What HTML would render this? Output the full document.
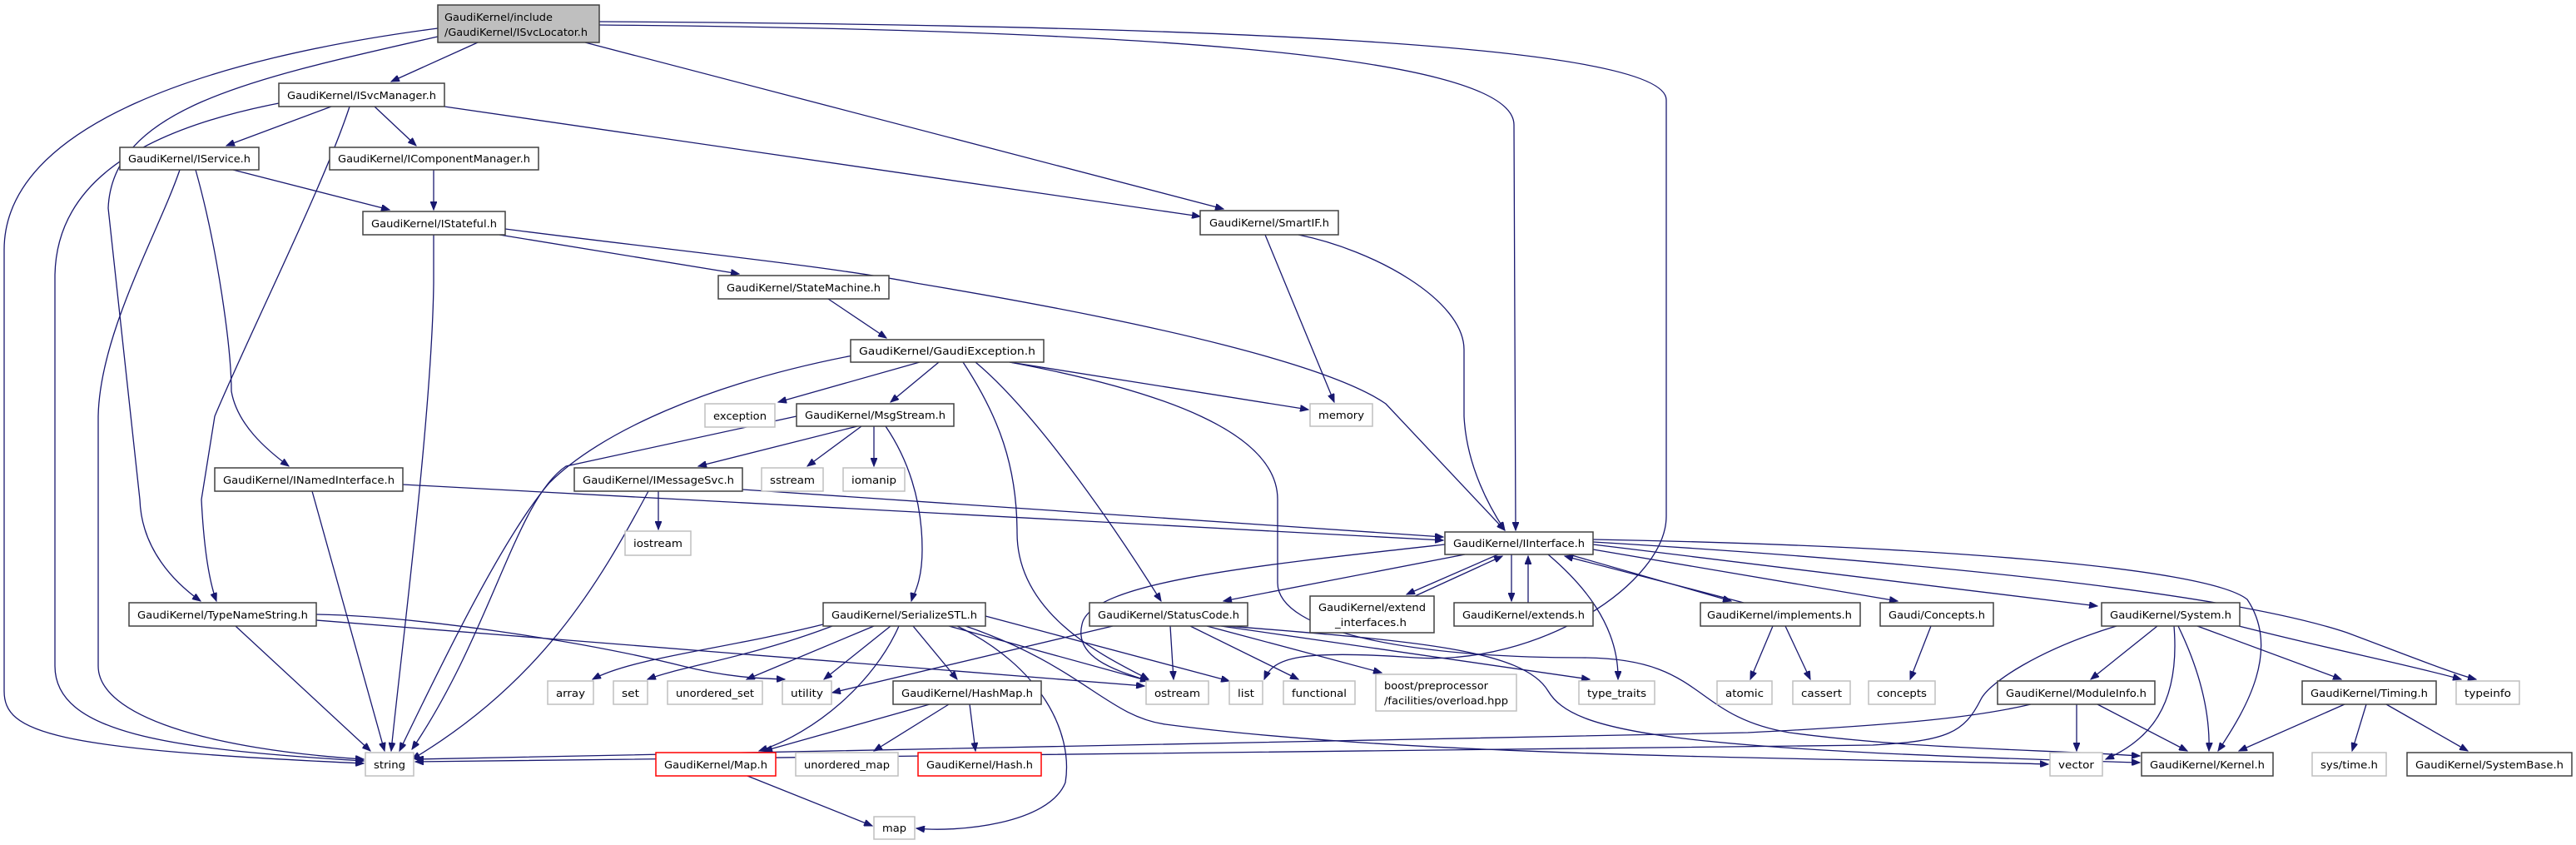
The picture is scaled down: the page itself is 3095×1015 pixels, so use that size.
<!DOCTYPE html>
<html><head><meta charset="utf-8"><style>
html,body{margin:0;padding:0;background:#fff;}
svg{display:block;}
text{font-family:"DejaVu Sans","Liberation Sans",sans-serif;font-size:12.5px;fill:#000;}
.e{fill:none;stroke:#191970;stroke-width:1.3;marker-end:url(#a);}
.d{fill:#fff;stroke:#404040;stroke-width:1.5;}
.x{fill:#fff;stroke:#bfbfbf;stroke-width:1.5;}
.r{fill:#fff;stroke:#ff0000;stroke-width:1.5;}
</style></head><body>
<svg width="3095" height="1015" viewBox="0 0 3095 1015" xmlns="http://www.w3.org/2000/svg">
<defs><marker id="a" markerUnits="userSpaceOnUse" markerWidth="11" markerHeight="8" refX="10" refY="4" orient="auto"><path d="M0,0 L10,4 L0,8 z" fill="#191970" stroke="#191970"/></marker></defs>
<g>
<path class="e" d="M526,34 C250,70 5,150 5,300 L5,830 C5,880 60,900 437,917"/>
<path class="e" d="M335,124 C150,160 68,230 66,330 L66,800 C66,880 200,900 437,914"/>
<path class="e" d="M216,204 C190,280 120,400 118,500 L118,800 C118,860 250,900 437,912"/>
<path class="e" d="M526,44 C300,95 135,130 130,250 L168,600 C170,660 210,700 241,722"/>
<path class="e" d="M420,128 C390,220 300,400 258,500 L242,600 C245,660 252,700 260,722"/>
<path class="e" d="M235,204 C262,300 278,420 278,470 C285,510 320,540 347,560"/>
<path class="e" d="M574,51 L470,98"/>
<path class="e" d="M703,51 L1470,251"/>
<path class="e" d="M534,128 L1442,260"/>
<path class="e" d="M720,30 C1300,35 1819,60 1819,150 L1821,637"/>
<path class="e" d="M720,26 C1400,30 2002,50 2002,120 L2002,620 C2002,700 1850,800 1700,790 C1560,780 1530,790 1519,816"/>
<path class="e" d="M398,128 L272,175"/>
<path class="e" d="M450,128 L500,175"/>
<path class="e" d="M280,204 L468,252"/>
<path class="e" d="M521,204 L521,252"/>
<path class="e" d="M521,282 L521,340 C519,500 480,800 470,902"/>
<path class="e" d="M600,282 L888,329"/>
<path class="e" d="M607,275 C800,300 1000,320 1100,340 C1400,390 1600,440 1665,485 L1808,637"/>
<path class="e" d="M1520,282 L1603,483"/>
<path class="e" d="M1560,282 C1650,300 1759,360 1759,420 L1759,500 C1762,560 1790,610 1808,637"/>
<path class="e" d="M995,359 L1065,406"/>
<path class="e" d="M1030,426 C850,460 720,520 660,580 C600,650 520,820 480,902"/>
<path class="e" d="M1105,435 L935,483"/>
<path class="e" d="M1128,435 L1070,483"/>
<path class="e" d="M1213,435 L1572,492"/>
<path class="e" d="M1157,435 C1200,500 1222,560 1222,640 C1222,740 1330,790 1380,816"/>
<path class="e" d="M1172,435 C1250,500 1350,650 1395,722"/>
<path class="e" d="M1213,435 C1400,470 1535,520 1535,600 L1535,700 C1535,760 1700,790 1900,790 C2050,790 2030,860 2150,880 C2300,900 2450,900 2571,908"/>
<path class="e" d="M957,500 L680,560 C620,600 590,760 495,900"/>
<path class="e" d="M1030,512 L839,560"/>
<path class="e" d="M1035,512 L970,560"/>
<path class="e" d="M1050,512 L1050,560"/>
<path class="e" d="M1064,512 C1090,550 1108,600 1108,660 C1108,700 1097,715 1095,722"/>
<path class="e" d="M791,590 L791,636"/>
<path class="e" d="M779,590 C720,700 650,820 495,912"/>
<path class="e" d="M892,588 L1734,645"/>
<path class="e" d="M484,582 L1734,649"/>
<path class="e" d="M375,590 L462,902"/>
<path class="e" d="M283,752 L445,902"/>
<path class="e" d="M380,738 C500,740 700,770 820,800 C880,815 920,815 943,816"/>
<path class="e" d="M380,745 L1375,824"/>
<path class="e" d="M993,749 C870,780 760,790 712,816"/>
<path class="e" d="M1000,752 C900,790 820,800 778,816"/>
<path class="e" d="M1050,752 L897,816"/>
<path class="e" d="M1070,752 L990,816"/>
<path class="e" d="M1080,752 C1050,820 980,880 912,902"/>
<path class="e" d="M1097,752 L1150,816"/>
<path class="e" d="M1140,752 L1380,818"/>
<path class="e" d="M1184,740 L1477,818"/>
<path class="e" d="M1150,752 C1250,800 1290,880 1280,940 C1260,990 1150,1000 1101,995"/>
<path class="e" d="M1160,752 C1300,800 1330,860 1400,870 C1700,910 2200,910 2461,918"/>
<path class="e" d="M1117,846 L918,902"/>
<path class="e" d="M1140,846 L1050,902"/>
<path class="e" d="M1165,846 L1172,902"/>
<path class="e" d="M898,932 L1048,992"/>
<path class="e" d="M1337,752 L1000,832"/>
<path class="e" d="M1406,752 L1410,816"/>
<path class="e" d="M1430,752 L1560,816"/>
<path class="e" d="M1450,752 L1660,808"/>
<path class="e" d="M1467,752 L1910,816"/>
<path class="e" d="M1475,752 C1700,770 1830,780 1860,830 C1890,880 2000,900 2571,916"/>
<path class="e" d="M1736,654 C1500,680 1310,700 1300,750 C1290,790 1340,805 1380,818"/>
<path class="e" d="M1760,666 L1470,722"/>
<path class="e" d="M1800,666 L1690,714"/>
<path class="e" d="M1700,716 L1805,668"/>
<path class="e" d="M1816,666 L1816,722"/>
<path class="e" d="M1836,724 L1836,668"/>
<path class="e" d="M1860,666 C1900,700 1945,750 1944,816"/>
<path class="e" d="M1885,666 L2080,722"/>
<path class="e" d="M2095,724 L1880,668"/>
<path class="e" d="M1914,660 L2280,722"/>
<path class="e" d="M1914,654 L2520,728"/>
<path class="e" d="M1914,648 C2300,655 2650,680 2700,720 C2740,780 2700,850 2665,902"/>
<path class="e" d="M1914,651 C2400,680 2700,720 2820,760 C2900,790 2950,810 2975,816"/>
<path class="e" d="M2130,752 L2103,816"/>
<path class="e" d="M2145,752 L2175,816"/>
<path class="e" d="M2320,752 L2295,816"/>
<path class="e" d="M2543,752 C2450,780 2390,820 2380,840 C2360,880 2340,890 2250,895 L499,915"/>
<path class="e" d="M2440,846 C2380,860 2300,870 2100,880 L499,912"/>
<path class="e" d="M2592,752 L2512,816"/>
<path class="e" d="M2612,752 C2620,850 2580,890 2530,912"/>
<path class="e" d="M2617,752 C2650,820 2655,870 2654,902"/>
<path class="e" d="M2640,752 L2813,816"/>
<path class="e" d="M2690,752 C2800,780 2900,800 2957,816"/>
<path class="e" d="M2495,846 L2495,902"/>
<path class="e" d="M2520,846 L2628,902"/>
<path class="e" d="M2817,846 L2690,902"/>
<path class="e" d="M2843,846 L2826,902"/>
<path class="e" d="M2867,846 L2965,902"/>
</g>
<g>
<rect x="526" y="6" width="194" height="45" style="fill:#bfbfbf;stroke:#404040;stroke-width:1.5"/>
<text x="534" y="25" textLength="130" lengthAdjust="spacingAndGlyphs">GaudiKernel/include</text>
<text x="534" y="43" textLength="172" lengthAdjust="spacingAndGlyphs">/GaudiKernel/ISvcLocator.h</text>
<rect class="d" x="335" y="100" width="199" height="28"/><text x="345" y="119" textLength="179" lengthAdjust="spacingAndGlyphs">GaudiKernel/ISvcManager.h</text>
<rect class="d" x="144" y="177" width="167" height="27"/><text x="154" y="195" textLength="147" lengthAdjust="spacingAndGlyphs">GaudiKernel/IService.h</text>
<rect class="d" x="396" y="177" width="251" height="27"/><text x="406" y="195" textLength="231" lengthAdjust="spacingAndGlyphs">GaudiKernel/IComponentManager.h</text>
<rect class="d" x="436" y="254" width="171" height="28"/><text x="446" y="273" textLength="151" lengthAdjust="spacingAndGlyphs">GaudiKernel/IStateful.h</text>
<rect class="d" x="1442" y="253" width="166" height="29"/><text x="1453" y="272" textLength="144" lengthAdjust="spacingAndGlyphs">GaudiKernel/SmartIF.h</text>
<rect class="d" x="863" y="331" width="205" height="28"/><text x="873" y="350" textLength="185" lengthAdjust="spacingAndGlyphs">GaudiKernel/StateMachine.h</text>
<rect class="d" x="1022" y="408" width="232" height="27"/><text x="1032" y="426" textLength="212" lengthAdjust="spacingAndGlyphs">GaudiKernel/GaudiException.h</text>
<rect class="x" x="847" y="485" width="84" height="28"/><text x="857" y="504" textLength="64" lengthAdjust="spacingAndGlyphs">exception</text>
<rect class="d" x="957" y="485" width="189" height="27"/><text x="967" y="503" textLength="169" lengthAdjust="spacingAndGlyphs">GaudiKernel/MsgStream.h</text>
<rect class="x" x="1574" y="485" width="75" height="27"/><text x="1584" y="503" textLength="55" lengthAdjust="spacingAndGlyphs">memory</text>
<rect class="d" x="258" y="562" width="226" height="28"/><text x="268" y="581" textLength="206" lengthAdjust="spacingAndGlyphs">GaudiKernel/INamedInterface.h</text>
<rect class="d" x="690" y="562" width="202" height="28"/><text x="700" y="581" textLength="182" lengthAdjust="spacingAndGlyphs">GaudiKernel/IMessageSvc.h</text>
<rect class="x" x="915" y="562" width="74" height="28"/><text x="925" y="581" textLength="54" lengthAdjust="spacingAndGlyphs">sstream</text>
<rect class="x" x="1013" y="562" width="74" height="28"/><text x="1023" y="581" textLength="54" lengthAdjust="spacingAndGlyphs">iomanip</text>
<rect class="x" x="751" y="638" width="79" height="29"/><text x="761" y="657" textLength="59" lengthAdjust="spacingAndGlyphs">iostream</text>
<rect class="d" x="1736" y="639" width="178" height="27"/><text x="1746" y="657" textLength="158" lengthAdjust="spacingAndGlyphs">GaudiKernel/IInterface.h</text>
<rect class="d" x="155" y="724" width="225" height="28"/><text x="165" y="743" textLength="205" lengthAdjust="spacingAndGlyphs">GaudiKernel/TypeNameString.h</text>
<rect class="d" x="989" y="724" width="195" height="28"/><text x="999" y="743" textLength="175" lengthAdjust="spacingAndGlyphs">GaudiKernel/SerializeSTL.h</text>
<rect class="d" x="1309" y="724" width="190" height="28"/><text x="1319" y="743" textLength="170" lengthAdjust="spacingAndGlyphs">GaudiKernel/StatusCode.h</text>
<rect class="d" x="1574" y="716" width="149" height="44"/>
<text x="1584" y="734" textLength="129" lengthAdjust="spacingAndGlyphs">GaudiKernel/extend</text>
<text x="1604" y="752" textLength="86" lengthAdjust="spacingAndGlyphs">_interfaces.h</text>
<rect class="d" x="1747" y="724" width="167" height="28"/><text x="1757" y="743" textLength="147" lengthAdjust="spacingAndGlyphs">GaudiKernel/extends.h</text>
<rect class="d" x="2043" y="724" width="192" height="28"/><text x="2051" y="743" textLength="174" lengthAdjust="spacingAndGlyphs">GaudiKernel/implements.h</text>
<rect class="d" x="2259" y="724" width="136" height="28"/><text x="2269" y="743" textLength="116" lengthAdjust="spacingAndGlyphs">Gaudi/Concepts.h</text>
<rect class="d" x="2525" y="724" width="166" height="28"/><text x="2535" y="743" textLength="146" lengthAdjust="spacingAndGlyphs">GaudiKernel/System.h</text>
<rect class="x" x="658" y="818" width="55" height="28"/><text x="668" y="837" textLength="35" lengthAdjust="spacingAndGlyphs">array</text>
<rect class="x" x="737" y="818" width="41" height="28"/><text x="747" y="837" textLength="21" lengthAdjust="spacingAndGlyphs">set</text>
<rect class="x" x="802" y="818" width="114" height="28"/><text x="812" y="837" textLength="94" lengthAdjust="spacingAndGlyphs">unordered_set</text>
<rect class="x" x="940" y="818" width="59" height="28"/><text x="950" y="837" textLength="39" lengthAdjust="spacingAndGlyphs">utility</text>
<rect class="d" x="1073" y="818" width="178" height="28"/><text x="1083" y="837" textLength="158" lengthAdjust="spacingAndGlyphs">GaudiKernel/HashMap.h</text>
<rect class="x" x="1377" y="818" width="75" height="28"/><text x="1387" y="837" textLength="55" lengthAdjust="spacingAndGlyphs">ostream</text>
<rect class="x" x="1477" y="818" width="40" height="28"/><text x="1487" y="837" textLength="20" lengthAdjust="spacingAndGlyphs">list</text>
<rect class="x" x="1542" y="818" width="86" height="28"/><text x="1552" y="837" textLength="66" lengthAdjust="spacingAndGlyphs">functional</text>
<rect class="x" x="1653" y="810" width="169" height="44"/>
<text x="1663" y="828" textLength="125" lengthAdjust="spacingAndGlyphs">boost/preprocessor</text>
<text x="1663" y="846" textLength="149" lengthAdjust="spacingAndGlyphs">/facilities/overload.hpp</text>
<rect class="x" x="1897" y="818" width="91" height="28"/><text x="1907" y="837" textLength="71" lengthAdjust="spacingAndGlyphs">type_traits</text>
<rect class="x" x="2063" y="818" width="66" height="28"/><text x="2073" y="837" textLength="46" lengthAdjust="spacingAndGlyphs">atomic</text>
<rect class="x" x="2154" y="818" width="69" height="28"/><text x="2164" y="837" textLength="49" lengthAdjust="spacingAndGlyphs">cassert</text>
<rect class="x" x="2245" y="818" width="80" height="28"/><text x="2255" y="837" textLength="60" lengthAdjust="spacingAndGlyphs">concepts</text>
<rect class="d" x="2400" y="818" width="189" height="28"/><text x="2410" y="837" textLength="169" lengthAdjust="spacingAndGlyphs">GaudiKernel/ModuleInfo.h</text>
<rect class="d" x="2766" y="818" width="161" height="28"/><text x="2776" y="837" textLength="141" lengthAdjust="spacingAndGlyphs">GaudiKernel/Timing.h</text>
<rect class="x" x="2951" y="818" width="76" height="28"/><text x="2961" y="837" textLength="56" lengthAdjust="spacingAndGlyphs">typeinfo</text>
<rect class="x" x="439" y="904" width="58" height="28"/><text x="449" y="923" textLength="38" lengthAdjust="spacingAndGlyphs">string</text>
<rect class="r" x="788" y="904" width="144" height="28"/><text x="798" y="923" textLength="124" lengthAdjust="spacingAndGlyphs">GaudiKernel/Map.h</text>
<rect class="x" x="956" y="904" width="123" height="28"/><text x="966" y="923" textLength="103" lengthAdjust="spacingAndGlyphs">unordered_map</text>
<rect class="r" x="1103" y="904" width="148" height="28"/><text x="1113" y="923" textLength="128" lengthAdjust="spacingAndGlyphs">GaudiKernel/Hash.h</text>
<rect class="x" x="2463" y="904" width="63" height="28"/><text x="2473" y="923" textLength="43" lengthAdjust="spacingAndGlyphs">vector</text>
<rect class="d" x="2573" y="904" width="158" height="28"/><text x="2583" y="923" textLength="138" lengthAdjust="spacingAndGlyphs">GaudiKernel/Kernel.h</text>
<rect class="x" x="2778" y="904" width="89" height="28"/><text x="2788" y="923" textLength="69" lengthAdjust="spacingAndGlyphs">sys/time.h</text>
<rect class="d" x="2892" y="904" width="198" height="28"/><text x="2902" y="923" textLength="178" lengthAdjust="spacingAndGlyphs">GaudiKernel/SystemBase.h</text>
<rect class="x" x="1050" y="981" width="49" height="27"/><text x="1060" y="999" textLength="29" lengthAdjust="spacingAndGlyphs">map</text>
</g>
</svg>
</body></html>
